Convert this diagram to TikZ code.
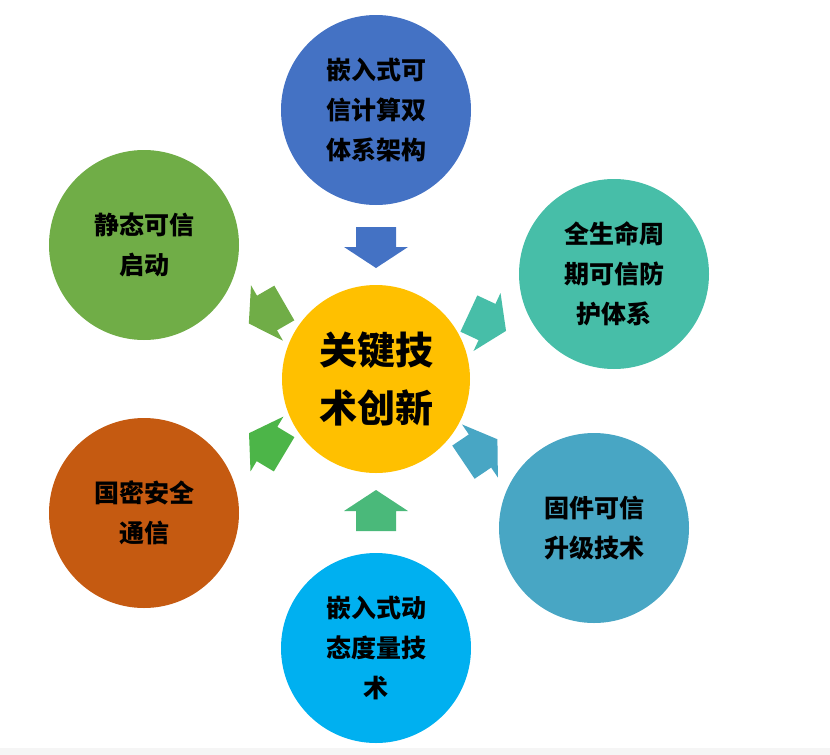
\documentclass[tikz,border=0pt]{standalone}
\usepackage{fontspec}
\setmainfont{Noto Sans CJK SC}
\definecolor{cblue}{HTML}{4472C4}
\definecolor{cteal}{HTML}{47BEA8}
\definecolor{cbteal}{HTML}{48A6C4}
\definecolor{csky}{HTML}{00B0F0}
\definecolor{corange}{HTML}{C55A11}
\definecolor{cgreen}{HTML}{70AD47}
\definecolor{cgold}{HTML}{FFC000}
\definecolor{agreen}{HTML}{4CB548}
\definecolor{amint}{HTML}{4AB97A}
\newcommand{\blockarrow}[4]{%
\fill[#4,shift={(#1,#2)},rotate=#3] (-20,-20) -- (0,-20) -- (0,-32) -- (21,0) -- (0,32) -- (0,20) -- (-20,20) -- cycle;}
\begin{document}
\begin{tikzpicture}[x=1pt,y=-1pt,
  topic/.style={circle,minimum size=190pt,inner sep=0pt,align=center,font=\fontsize{25}{40}\selectfont\bfseries},
  core/.style={circle,minimum size=188pt,inner sep=0pt,align=center,font=\fontsize{38}{58}\selectfont\bfseries}]
\useasboundingbox (0,0) rectangle (830,755);
\fill[gray!8] (0,748) rectangle (830,755);
\node[core,fill=cgold] (core) at (376,379) {关键技\\术创新};
\node[topic,fill=cblue] (t1) at (376,110) {嵌入式可\\信计算双\\体系架构};
\node[topic,fill=cteal] (t2) at (614,274) {全生命周\\期可信防\\护体系};
\node[topic,fill=cbteal] (t3) at (594,528) {固件可信\\升级技术};
\node[topic,fill=csky] (t4) at (376,648) {嵌入式动\\态度量技\\术};
\node[topic,fill=corange] (t5) at (144,513) {国密安全\\通信};
\node[topic,fill=cgreen] (t6) at (144,245) {静态可信\\启动};
% arrows from the core
\blockarrow{376}{247}{-90}{cblue}
\blockarrow{487}{322}{-25}{cteal}
\blockarrow{480}{451}{34}{cbteal}
\blockarrow{376}{511}{90}{amint}
\blockarrow{267}{444}{149}{agreen}
\blockarrow{267}{313}{-150}{cgreen}
\end{tikzpicture}
\end{document}
